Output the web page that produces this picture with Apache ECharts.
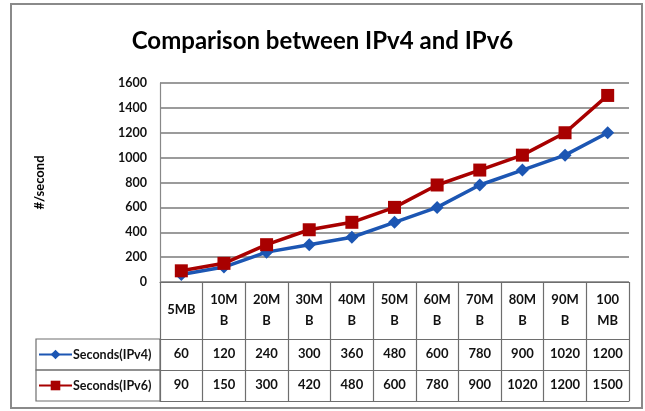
<!DOCTYPE html>
<html>
<head>
<meta charset="utf-8">
<script src="https://cdn.jsdelivr.net/npm/echarts@6/dist/echarts.min.js"></script>
<style>html,body{margin:0;padding:0;background:#fff}#c{width:645px;height:411px}</style>
</head>
<body>
<div id="c"></div>
<script>
var categories = ["5MB","10MB","20MB","30MB","40MB","50MB","60MB","70MB","80MB","90MB","100MB"];
var headerLabels = ["5MB","10M\nB","20M\nB","30M\nB","40M\nB","50M\nB","60M\nB","70M\nB","80M\nB","90M\nB","100\nMB"];
var ipv4 = [60,120,240,300,360,480,600,780,900,1020,1200];
var ipv6 = [90,150,300,420,480,600,780,900,1020,1200,1500];
var yTicks = [0,200,400,600,800,1000,1200,1400,1600];

var FONT = 'Lato';
var BORDER = '#6e6e6e';
var chart = echarts.init(document.getElementById('c'));

function tableAxis(offset, labels, tickLen, margin, showLabel) {
  return {
    type: 'category', data: categories, position: 'bottom', gridIndex: 0,
    offset: offset, boundaryGap: true,
    axisLine: {show: true, lineStyle: {color: BORDER, width: 1.2}},
    axisTick: {show: tickLen > 0, length: tickLen, interval: 0, lineStyle: {color: BORDER, width: 1.2}},
    axisLabel: {
      show: showLabel, interval: 0, margin: margin, verticalAlign: 'middle',
      fontFamily: FONT, fontWeight: 'bold', fontSize: 13, color: '#111', lineHeight: 21,
      formatter: function (v, i) { return labels ? String(labels[i]) : ''; }
    }
  };
}

chart.setOption({
  animation: false,
  title: {
    text: 'Comparison between IPv4 and IPv6', left: 'center', top: 24,
    textStyle: {fontFamily: FONT, fontWeight: 'bold', fontSize: 24, color: '#000'}
  },
  legend: [
    {data: ['Seconds(IPv4)'], left: 38, top: 348, padding: 0, itemWidth: 33, itemHeight: 12, itemGap: 0,
     textStyle: {fontFamily: FONT, fontWeight: 'bold', fontSize: 12.5, color: '#111', padding: [0,0,0,-4]}},
    {data: ['Seconds(IPv6)'], left: 38, top: 379, padding: 0, itemWidth: 33, itemHeight: 12, itemGap: 0,
     textStyle: {fontFamily: FONT, fontWeight: 'bold', fontSize: 12.5, color: '#111', padding: [0,0,0,-4]}}
  ],
  grid: {left: 160, right: 16, top: 83, bottom: 129},
  xAxis: [
    tableAxis(0, headerLabels, 57, 28, true),
    tableAxis(57, ipv4, 31, 15, true),
    tableAxis(88, ipv6, 31, 15, true),
    tableAxis(119, null, 0, 0, false)
  ],
  yAxis: {
    type: 'value', min: yTicks[0], max: yTicks[yTicks.length - 1], interval: 200,
    name: '#/second', nameLocation: 'middle', nameGap: 114, nameRotate: 90,
    nameTextStyle: {fontFamily: FONT, fontWeight: 'bold', fontSize: 13, color: '#000'},
    axisLine: {show: true, lineStyle: {color: '#888', width: 1.2}},
    axisTick: {show: false},
    axisLabel: {margin: 13, fontFamily: FONT, fontWeight: 'bold', fontSize: 12.5, color: '#111',
                formatter: function (v) { return String(v); }},
    splitLine: {show: true, lineStyle: {color: '#7a7a7a', width: 1.5}}
  },
  series: [
    {name: 'Seconds(IPv4)', type: 'line', data: ipv4, xAxisIndex: 0,
     symbol: 'diamond', symbolSize: 13,
     lineStyle: {color: '#1c56b3', width: 3.5}, itemStyle: {color: '#1c56b3'}},
    {name: 'Seconds(IPv6)', type: 'line', data: ipv6, xAxisIndex: 0,
     symbol: 'rect', symbolSize: 13,
     lineStyle: {color: '#a80000', width: 3.5}, itemStyle: {color: '#a80000'}}
  ],
  graphic: [
    {type: 'rect', shape: {x: 11, y: 4, width: 631, height: 404}, silent: true,
     style: {fill: null, stroke: '#8a8a8a', lineWidth: 2}},
    {type: 'rect', shape: {x: 36, y: 339, width: 124, height: 31}, silent: true,
     style: {fill: null, stroke: BORDER, lineWidth: 1.2}},
    {type: 'rect', shape: {x: 36, y: 370, width: 124, height: 31}, silent: true,
     style: {fill: null, stroke: BORDER, lineWidth: 1.2}}
  ]
});
</script>
</body>
</html>
